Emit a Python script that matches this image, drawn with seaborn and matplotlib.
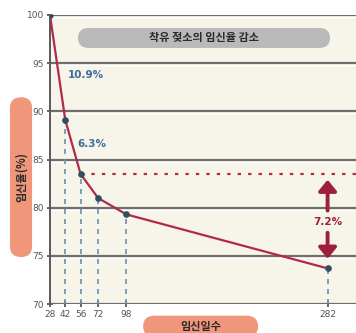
import matplotlib
matplotlib.use("Agg")
import matplotlib.pyplot as plt
from matplotlib.patches import FancyBboxPatch
import seaborn as sns
import pandas as pd

# Pregnancy rate by days of gestation
days = [28, 42, 56, 72, 98, 282]
rate = [100.0, 89.1, 83.5, 81.0, 79.3, 73.7]
x_ticks = [28, 42, 56, 72, 98, 282]
y_ticks = [70, 75, 80, 85, 90, 95, 100]
drop_labels = ["10.9%", "6.3%", "7.2%"]

title = "착유 젖소의 임신율 감소"
xlabel = "임신일수"
ylabel = "임신율(%)"

sns.set_theme(style="white")
plt.rcParams["font.family"] = ["Noto Sans CJK KR", "DejaVu Sans"]

df = pd.DataFrame({"days": days, "rate": rate})

fig = plt.figure(figsize=(3.56, 3.33), dpi=100)
fig.patch.set_facecolor("white")
ax = fig.add_axes([0.1404, 0.087, 0.8596, 0.868])
ax.set_facecolor("#f7f4ea")

ax.set_xlim(28, 308)
ax.set_ylim(70, 100)

# horizontal grid with a light highlight underneath
for yv in y_ticks:
    ax.axhline(yv, color="#6e6e6e", lw=1.6, zorder=1)
    ax.axhline(yv - 0.22, color="#ffffff", lw=0.9, zorder=1)

# dashed drop lines from each point to the axis
for d, r in zip(days, rate):
    ax.plot([d, d], [70, r], color="#6a8fae", lw=1.2, ls=(0, (3, 3)), zorder=2)

# dotted reference level at day 56
ax.plot([days[2], 308], [rate[2], rate[2]], color="#b02a48", lw=1.6,
        ls=(0, (1.5, 3.2)), zorder=2)

sns.lineplot(data=df, x="days", y="rate", ax=ax, color="#b02a4c", lw=1.6,
             marker="o", markersize=4, markerfacecolor="#2f4f5f",
             markeredgecolor="#2f4f5f", zorder=3)

narrow = ["Liberation Sans Narrow", "DejaVu Sans"]
ax.set_xticks(x_ticks)
ax.set_yticks(y_ticks)
ax.set_xticklabels([str(v) for v in x_ticks], fontsize=6.5, color="#555555",
                   family=narrow)
ax.set_yticklabels([str(v) for v in y_ticks], fontsize=6.5, color="#555555",
                   family=narrow)
ax.tick_params(axis="both", direction="inout", length=5, width=1.2,
               color="#4a4a4a", pad=2)
ax.tick_params(axis="y", left=True)
ax.tick_params(axis="x", bottom=True)
for s in ["top", "right", "bottom"]:
    ax.spines[s].set_visible(False)
ax.spines["left"].set_color("#5a5a5a")
ax.spines["left"].set_linewidth(1.4)
ax.set_xlabel("")
ax.set_ylabel("")

# drop annotations
ax.text(60.5, 93.8, drop_labels[0], color="#3e6e98", fontsize=7.5,
        fontweight="bold", ha="center", va="center", family=narrow)
ax.text(66.5, 86.6, drop_labels[1], color="#3e6e98", fontsize=7.5,
        fontweight="bold", ha="center", va="center", family=narrow)
ax.text(days[-1], 78.5, drop_labels[2], color="#9e1f3c", fontsize=7.5,
        fontweight="bold", ha="center", va="center", family=narrow)
arrow = dict(arrowstyle="-|>,head_width=0.45,head_length=0.55",
             color="#9e1f3c", lw=2.8, shrinkA=0, shrinkB=0)
ax.annotate("", xy=(days[-1], 82.9), xytext=(days[-1], 79.7), arrowprops=arrow)
ax.annotate("", xy=(days[-1], 74.7), xytext=(days[-1], 77.4), arrowprops=arrow)

# pill-shaped labels
def pill(x0, y0, w, h, face, text, rot=0, size=8, rs=0.03):
    p = FancyBboxPatch((x0, y0), w, h, boxstyle=f"round,pad=0,rounding_size={rs}",
                       transform=fig.transFigure, facecolor=face,
                       edgecolor="none", zorder=5)
    fig.patches.append(p)
    fig.text(x0 + w / 2, y0 + h / 2, text, rotation=rot, ha="center",
             va="center", fontsize=size, fontweight="bold", color="#2a2a2a",
             zorder=6)

pill(0.219, 0.856, 0.708, 0.060, "#b9b9b9", title, rs=0.03)
pill(0.028, 0.228, 0.062, 0.480, "#f0967a", ylabel, rot=90, rs=0.031)
pill(0.402, -0.012, 0.323, 0.064, "#f0967a", xlabel, rs=0.032)

fig.savefig("out.png", dpi=100)
